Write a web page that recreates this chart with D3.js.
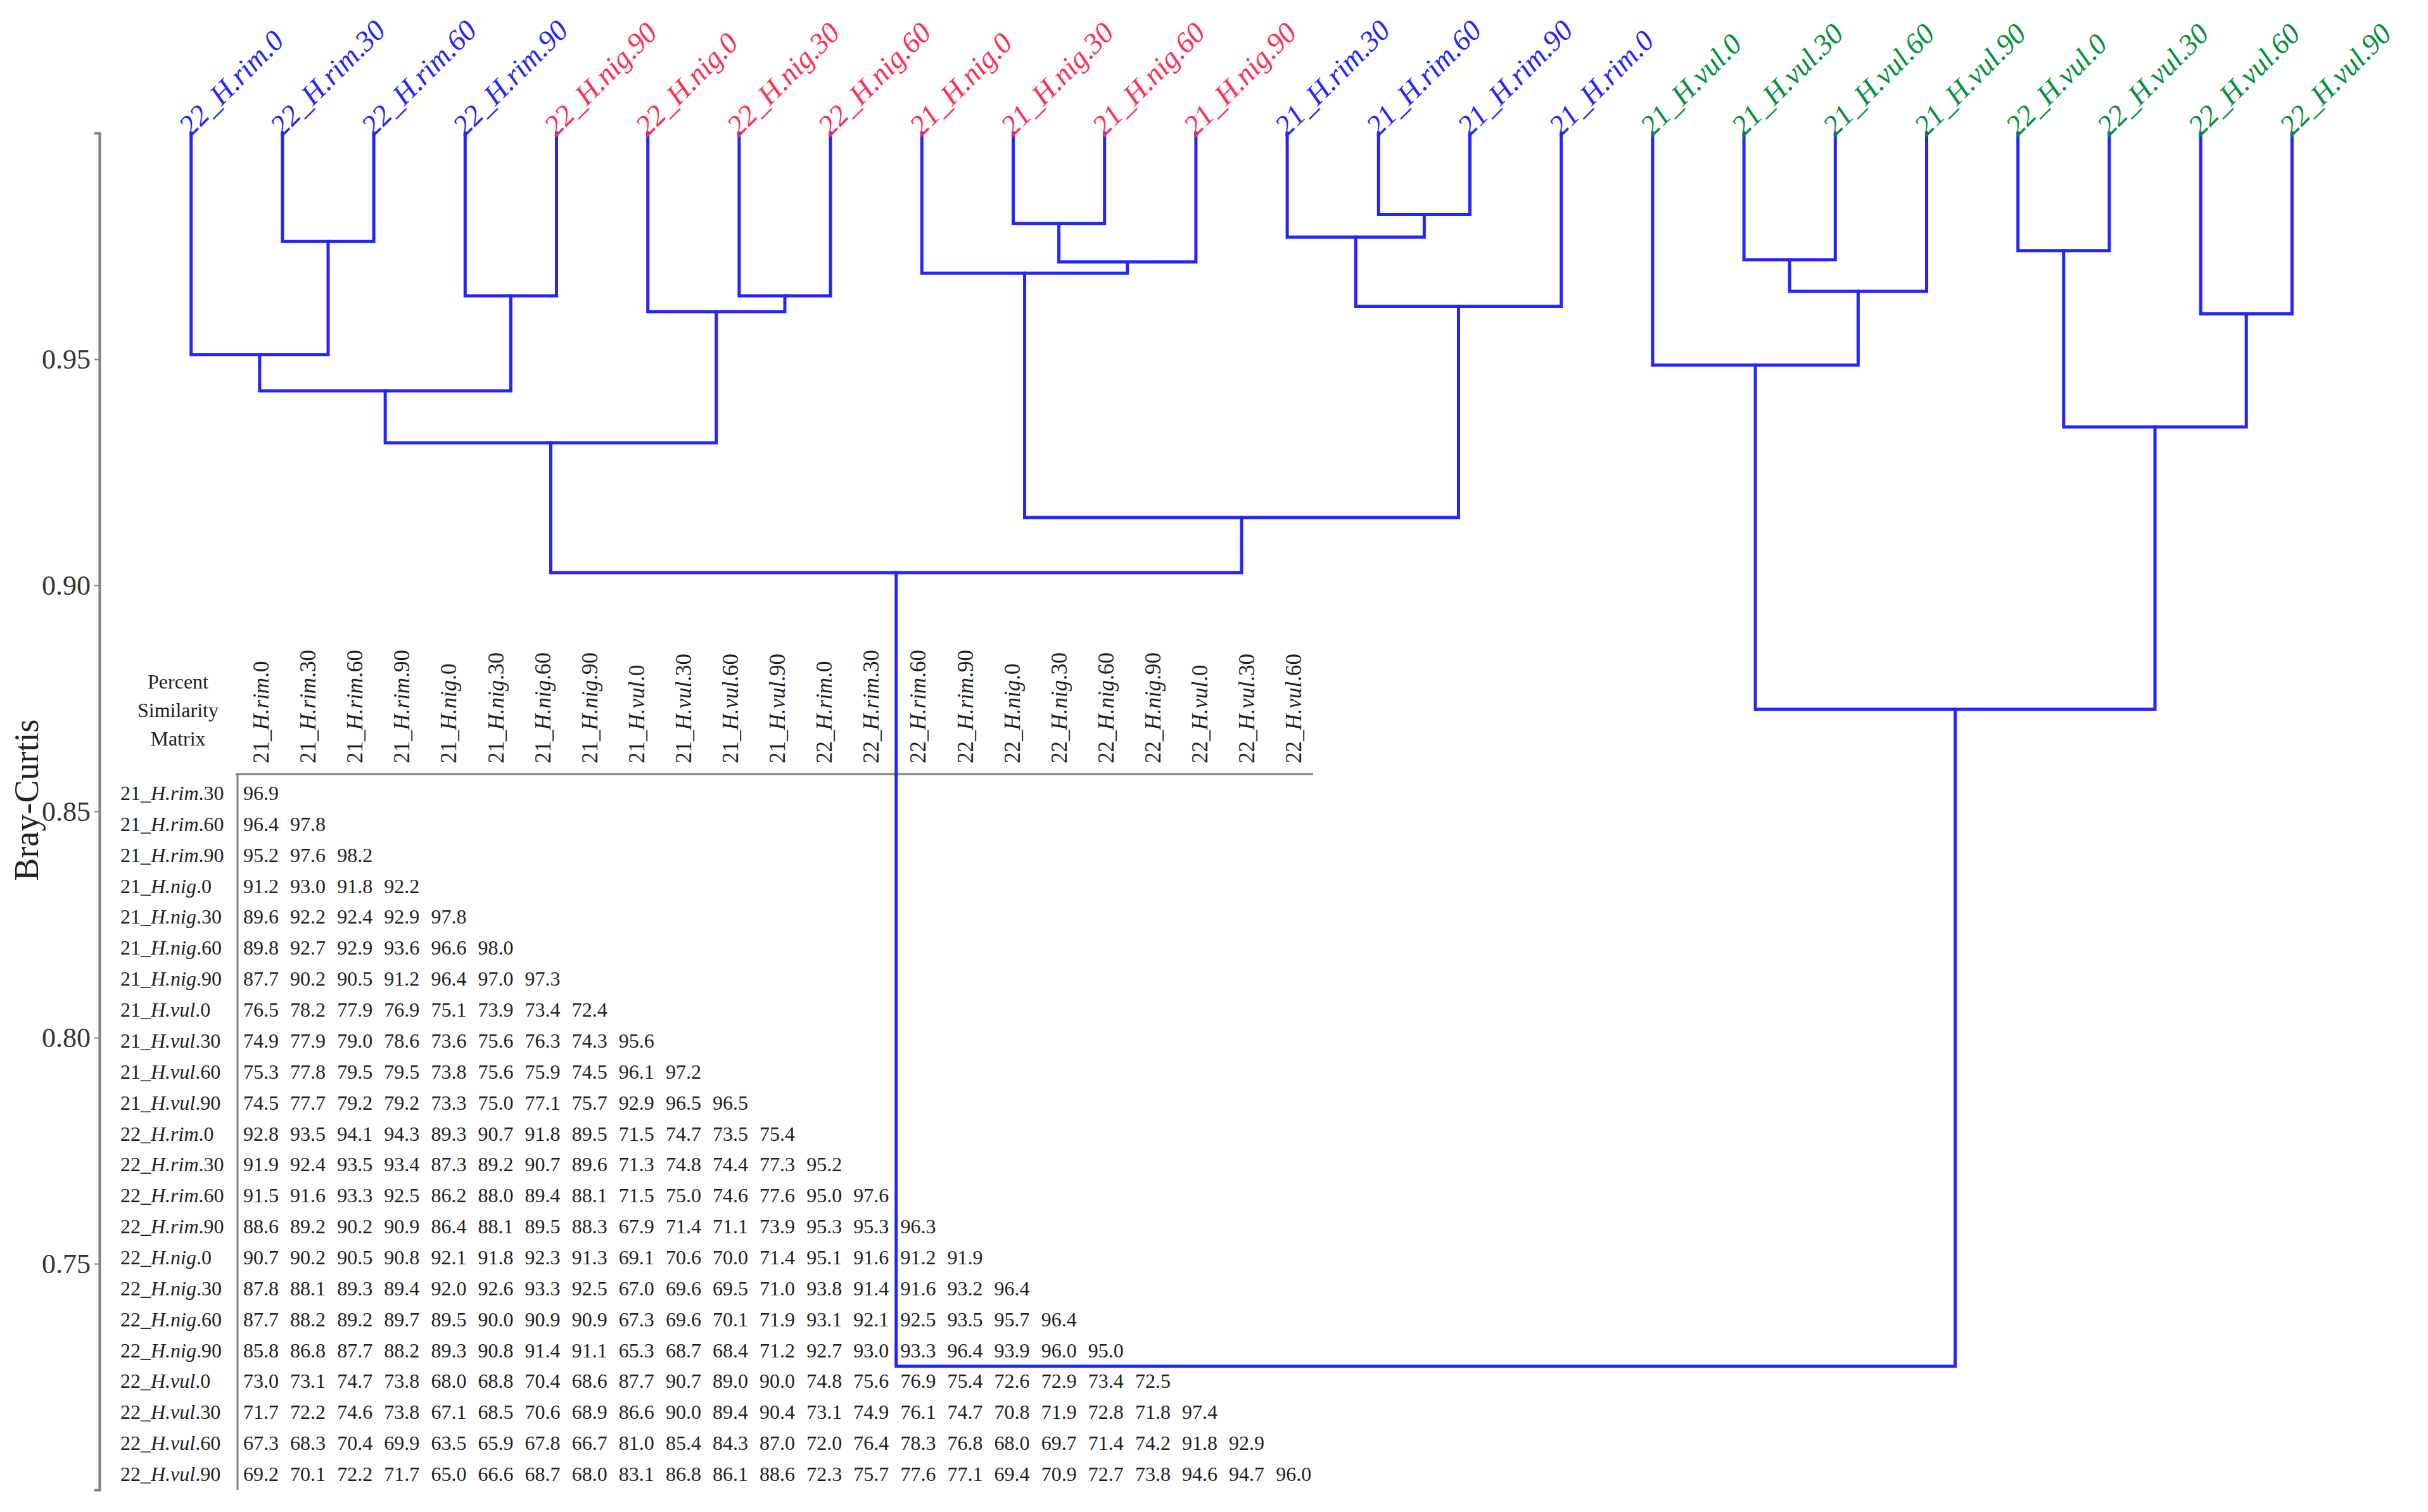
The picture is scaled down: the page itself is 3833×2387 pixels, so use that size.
<!DOCTYPE html>
<html><head><meta charset="utf-8">
<script src="https://cdn.jsdelivr.net/npm/d3@7"></script>
<style>
body{margin:0;background:#fff}
svg{display:block;background:#fff}
text{font-family:"Liberation Serif","Times New Roman",serif}
</style>
</head><body>
<svg id="c" width="3833" height="2387"></svg>
<script>
// ---------- DATA ----------
const leafLabels = ["22_H.rim.0","22_H.rim.30","22_H.rim.60","22_H.rim.90","22_H.nig.90","22_H.nig.0","22_H.nig.30","22_H.nig.60",
  "21_H.nig.0","21_H.nig.30","21_H.nig.60","21_H.nig.90","21_H.rim.30","21_H.rim.60","21_H.rim.90","21_H.rim.0",
  "21_H.vul.0","21_H.vul.30","21_H.vul.60","21_H.vul.90","22_H.vul.0","22_H.vul.30","22_H.vul.60","22_H.vul.90"];

// [node id, left child, right child, Bray-Curtis similarity at merge]
const merges = [
  ["A","22_H.rim.30","22_H.rim.60",0.976],
  ["B","22_H.rim.0","A",0.951],
  ["C","22_H.rim.90","22_H.nig.90",0.964],
  ["D","B","C",0.943],
  ["E","22_H.nig.30","22_H.nig.60",0.964],
  ["F","22_H.nig.0","E",0.9605],
  ["G","D","F",0.9315],
  ["H","21_H.nig.30","21_H.nig.60",0.980],
  ["I","H","21_H.nig.90",0.9715],
  ["J","21_H.nig.0","I",0.969],
  ["K","21_H.rim.60","21_H.rim.90",0.982],
  ["L","21_H.rim.30","K",0.977],
  ["M","L","21_H.rim.0",0.9617],
  ["N","J","M",0.915],
  ["O","G","N",0.9028],
  ["P","21_H.vul.30","21_H.vul.60",0.972],
  ["Q","P","21_H.vul.90",0.965],
  ["R","21_H.vul.0","Q",0.9487],
  ["S","22_H.vul.0","22_H.vul.30",0.974],
  ["T","22_H.vul.60","22_H.vul.90",0.960],
  ["U","S","T",0.935],
  ["V","R","U",0.8726],
  ["root","O","V",0.7273]
];
const leafSimilarity = 1.0;

const yTicks = [0.75,0.80,0.85,0.90,0.95];

const matrixCols = ["21_H.rim.0","21_H.rim.30","21_H.rim.60","21_H.rim.90","21_H.nig.0","21_H.nig.30","21_H.nig.60","21_H.nig.90",
  "21_H.vul.0","21_H.vul.30","21_H.vul.60","21_H.vul.90","22_H.rim.0","22_H.rim.30","22_H.rim.60","22_H.rim.90",
  "22_H.nig.0","22_H.nig.30","22_H.nig.60","22_H.nig.90","22_H.vul.0","22_H.vul.30","22_H.vul.60"];
const matrixRows = ["21_H.rim.30","21_H.rim.60","21_H.rim.90","21_H.nig.0","21_H.nig.30","21_H.nig.60","21_H.nig.90",
  "21_H.vul.0","21_H.vul.30","21_H.vul.60","21_H.vul.90","22_H.rim.0","22_H.rim.30","22_H.rim.60","22_H.rim.90",
  "22_H.nig.0","22_H.nig.30","22_H.nig.60","22_H.nig.90","22_H.vul.0","22_H.vul.30","22_H.vul.60","22_H.vul.90"];
const matrixValues = [
  [96.9],
  [96.4,97.8],
  [95.2,97.6,98.2],
  [91.2,93.0,91.8,92.2],
  [89.6,92.2,92.4,92.9,97.8],
  [89.8,92.7,92.9,93.6,96.6,98.0],
  [87.7,90.2,90.5,91.2,96.4,97.0,97.3],
  [76.5,78.2,77.9,76.9,75.1,73.9,73.4,72.4],
  [74.9,77.9,79.0,78.6,73.6,75.6,76.3,74.3,95.6],
  [75.3,77.8,79.5,79.5,73.8,75.6,75.9,74.5,96.1,97.2],
  [74.5,77.7,79.2,79.2,73.3,75.0,77.1,75.7,92.9,96.5,96.5],
  [92.8,93.5,94.1,94.3,89.3,90.7,91.8,89.5,71.5,74.7,73.5,75.4],
  [91.9,92.4,93.5,93.4,87.3,89.2,90.7,89.6,71.3,74.8,74.4,77.3,95.2],
  [91.5,91.6,93.3,92.5,86.2,88.0,89.4,88.1,71.5,75.0,74.6,77.6,95.0,97.6],
  [88.6,89.2,90.2,90.9,86.4,88.1,89.5,88.3,67.9,71.4,71.1,73.9,95.3,95.3,96.3],
  [90.7,90.2,90.5,90.8,92.1,91.8,92.3,91.3,69.1,70.6,70.0,71.4,95.1,91.6,91.2,91.9],
  [87.8,88.1,89.3,89.4,92.0,92.6,93.3,92.5,67.0,69.6,69.5,71.0,93.8,91.4,91.6,93.2,96.4],
  [87.7,88.2,89.2,89.7,89.5,90.0,90.9,90.9,67.3,69.6,70.1,71.9,93.1,92.1,92.5,93.5,95.7,96.4],
  [85.8,86.8,87.7,88.2,89.3,90.8,91.4,91.1,65.3,68.7,68.4,71.2,92.7,93.0,93.3,96.4,93.9,96.0,95.0],
  [73.0,73.1,74.7,73.8,68.0,68.8,70.4,68.6,87.7,90.7,89.0,90.0,74.8,75.6,76.9,75.4,72.6,72.9,73.4,72.5],
  [71.7,72.2,74.6,73.8,67.1,68.5,70.6,68.9,86.6,90.0,89.4,90.4,73.1,74.9,76.1,74.7,70.8,71.9,72.8,71.8,97.4],
  [67.3,68.3,70.4,69.9,63.5,65.9,67.8,66.7,81.0,85.4,84.3,87.0,72.0,76.4,78.3,76.8,68.0,69.7,71.4,74.2,91.8,92.9],
  [69.2,70.1,72.2,71.7,65.0,66.6,68.7,68.0,83.1,86.8,86.1,88.6,72.3,75.7,77.6,77.1,69.4,70.9,72.7,73.8,94.6,94.7,96.0]
];

// ---------- STYLE ----------
const speciesColor = {rim:"#2424ff", nig:"#ff2d55", vul:"#00923a"};
const lineColor = "#2424ff";
const gray = "#808080";
const ink = "#1e1e1e";

const svg = d3.select("#c");

// ---------- TREE ----------
const nodes = {};
leafLabels.forEach(l => nodes[l] = {name:l, sim:leafSimilarity});
merges.forEach(([id,a,b,s]) => nodes[id] = {name:id, sim:s, children:[nodes[a], nodes[b]]});
const root = d3.hierarchy(nodes["root"]);

const leafStep = 144.2, firstLeafX = 301.7;
const clusterW = leafStep * leafLabels.length;
d3.cluster().size([clusterW, 1]).separation(() => 1)(root);
const xOff = firstLeafX - leafStep/2;

const y = d3.scaleLinear().domain([0.70, 1.0]).range([2352, 210]);
const X = d => xOff + d.x;

// axis
const axisG = svg.append("g").attr("transform","translate(157,0)")
  .call(d3.axisLeft(y).tickValues(yTicks).tickFormat(d3.format(".2f")).tickSizeOuter(0).tickSize(8).tickPadding(6));
axisG.select(".domain").attr("stroke",gray).attr("stroke-width",4);
axisG.selectAll(".tick line").attr("stroke",gray).attr("stroke-width",2);
axisG.selectAll(".tick text").attr("font-size",44).attr("fill","#333")
  .style("font-family",'"Liberation Serif",serif');

svg.append("text").attr("transform","translate(60,1263) rotate(-90)")
  .attr("text-anchor","middle").attr("font-size",54).attr("fill","#222").text("Bray-Curtis");

// ---------- MATRIX ----------
const colX = d3.scalePoint().domain(matrixCols).range([412, 412 + 22*74.1]);
const rowY = d3.scalePoint().domain(matrixRows).range([1252, 2327]);

function richLabel(sel, label){
  const m = label.match(/^(\d+_)(H\.[a-z]+)(\..*)$/);
  sel.append("tspan").text(m[1]);
  sel.append("tspan").attr("font-style","italic").text(m[2]);
  sel.append("tspan").text(m[3]);
}

const mg = svg.append("g");
mg.append("line").attr("x1",372).attr("x2",2073).attr("y1",1222).attr("y2",1222).attr("stroke",gray).attr("stroke-width",3);
mg.append("line").attr("x1",375).attr("x2",375).attr("y1",1222).attr("y2",2352).attr("stroke",gray).attr("stroke-width",3);

["Percent","Similarity","Matrix"].forEach((t,i) => {
  mg.append("text").attr("x",281).attr("y",1087 + i*45).attr("text-anchor","middle")
    .attr("font-size",32).attr("fill",ink).text(t);
});

matrixCols.forEach(c => {
  const t = mg.append("text").attr("transform",`translate(${colX(c)+12},1205) rotate(-90)`)
    .attr("font-size",35).attr("fill",ink);
  richLabel(t, c);
});
matrixRows.forEach((r,i) => {
  const t = mg.append("text").attr("x",190).attr("y",rowY(r)+11).attr("font-size",32).attr("fill",ink);
  richLabel(t, r);
  mg.selectAll(null).data(matrixValues[i]).enter().append("text")
    .attr("x",(v,j) => colX(matrixCols[j])).attr("y",rowY(r)+11)
    .attr("text-anchor","middle").attr("font-size",32).attr("fill",ink)
    .text(v => v.toFixed(1));
});

// ---------- DENDROGRAM ----------
const dg = svg.append("g").attr("fill","none").attr("stroke",lineColor).attr("stroke-width",5)
  .attr("stroke-linecap","square");
root.descendants().filter(d => d.children).forEach(d => {
  const [a,b] = d.children;
  dg.append("path").attr("d",
    `M${X(a)},${y(a.data.sim)}V${y(d.data.sim)}H${X(b)}V${y(b.data.sim)}`);
});

root.leaves().forEach(d => {
  const sp = d.data.name.match(/H\.([a-z]+)/)[1];
  svg.append("text")
    .attr("transform",`translate(${X(d)-1},${y(leafSimilarity)+7}) rotate(-45)`)
    .attr("font-size",46).attr("font-style","italic").attr("fill",speciesColor[sp])
    .text(d.data.name);
});
</script>
</body></html>
